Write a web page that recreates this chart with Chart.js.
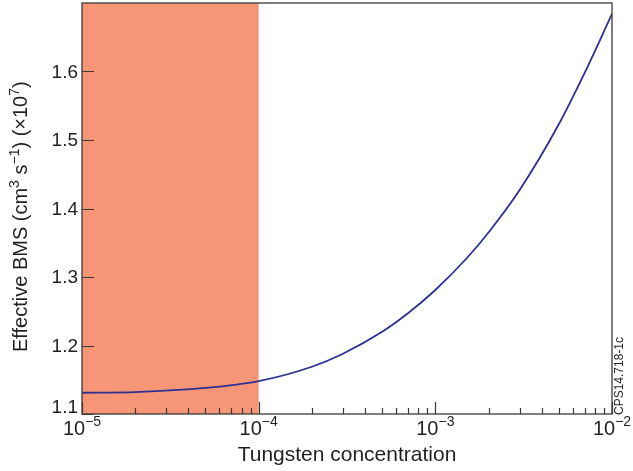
<!DOCTYPE html>
<html>
<head>
<meta charset="utf-8">
<script src="https://cdn.jsdelivr.net/npm/chart.js@4.4.1/dist/chart.umd.min.js"></script>
<style>
html,body{margin:0;padding:0;background:#fff;}
#wrap{width:633px;height:471px;position:relative;}
</style>
</head>
<body>
<div id="wrap"><canvas id="c" width="633" height="471"></canvas></div>
<script>
// ---- data ----
const concentration = [1e-5, 2e-5, 5e-5, 1e-4, 2e-4, 3e-4, 5e-4, 7e-4, 1e-3, 1.5e-3, 2e-3, 3e-3, 5e-3, 7e-3, 1e-2];
const effectiveBMS  = [1.131, 1.132, 1.138, 1.148, 1.169, 1.188, 1.220, 1.247, 1.281, 1.327, 1.365, 1.427, 1.523, 1.598, 1.684];
const shadedRange   = [1e-5, 1e-4];
const yTicks        = [1.1, 1.2, 1.3, 1.4, 1.5, 1.6];
const xMajorTicks   = [1e-5, 1e-4, 1e-3, 1e-2];
const xTickExponents = ['−5', '−4', '−3', '−2'];
const xTitle = 'Tungsten concentration';
const figureId = 'CPS14.718-1c';

const FONT = '"Liberation Sans", Arial, Helvetica, sans-serif';
const INK = '#231f20';

const points = concentration.map((c, i) => ({x: c, y: effectiveBMS[i]}));

const decor = {
  id: 'decor',
  beforeDatasetsDraw(chart) {
    const {ctx, chartArea: a, scales: {x}} = chart;
    const x0 = x.getPixelForValue(shadedRange[0]);
    const x1 = x.getPixelForValue(shadedRange[1]);
    ctx.save();
    ctx.fillStyle = '#F79676';
    ctx.fillRect(x0, a.top, x1 - x0, a.bottom - a.top);
    ctx.restore();
  },
  afterDatasetsDraw(chart) {
    const {ctx, chartArea: a, scales: {x, y}} = chart;
    ctx.save();
    // ticks (inward)
    ctx.strokeStyle = '#3a3a3a';
    ctx.lineWidth = 1.2;
    ctx.beginPath();
    yTicks.forEach(v => {
      const py = Math.round(y.getPixelForValue(v)) + 0.5;
      ctx.moveTo(a.left, py); ctx.lineTo(a.left + 12, py);
    });
    for (let d = 0; d < xMajorTicks.length; d++) {
      const base = xMajorTicks[d];
      const px = Math.round(x.getPixelForValue(base)) + 0.5;
      ctx.moveTo(px, a.bottom); ctx.lineTo(px, a.bottom - 12);
      if (d < xMajorTicks.length - 1) {
        for (let m = 2; m <= 9; m++) {
          const pm = Math.round(x.getPixelForValue(base * m)) + 0.5;
          ctx.moveTo(pm, a.bottom); ctx.lineTo(pm, a.bottom - 6);
        }
      }
    }
    ctx.stroke();
    // frame
    ctx.strokeStyle = '#3a3a3a';
    ctx.lineWidth = 1.3;
    ctx.strokeRect(a.left, a.top, a.right - a.left, a.bottom - a.top);

    ctx.fillStyle = INK;
    // y tick labels
    ctx.font = '19px ' + FONT;
    ctx.textAlign = 'right';
    yTicks.forEach((v, i) => {
      const py = y.getPixelForValue(v);
      if (i === 0) { ctx.textBaseline = 'alphabetic'; ctx.fillText(v.toFixed(1), 78, py - 1); }
      else { ctx.textBaseline = 'middle'; ctx.fillText(v.toFixed(1), 78, py + 1); }
    });
    // x tick labels with superscripts
    ctx.textBaseline = 'alphabetic';
    ctx.textAlign = 'left';
    xMajorTicks.forEach((v, i) => {
      const px = x.getPixelForValue(v);
      ctx.font = '20px ' + FONT;
      const wb = ctx.measureText('10').width;
      ctx.font = '14px ' + FONT;
      const we = ctx.measureText(xTickExponents[i]).width;
      let start = px - (wb + we) / 2;
      if (start + wb + we > 633) start = 633 - wb - we;
      ctx.font = '20px ' + FONT;
      ctx.fillText('10', start, 435);
      ctx.font = '14px ' + FONT;
      ctx.fillText(xTickExponents[i], start + wb, 426);
    });
    // x title
    ctx.font = '21px ' + FONT;
    ctx.textAlign = 'center';
    ctx.fillText(xTitle, (a.left + a.right) / 2, 461);

    // y title (rotated, with superscripts)
    const parts = [
      ['Effective BMS (cm', false], ['3', true], [' s', false], ['−1', true],
      [') (×10', false], ['7', true], [')', false]
    ];
    ctx.translate(27, 352);
    ctx.rotate(-Math.PI / 2);
    ctx.textAlign = 'left';
    let cx = 0;
    parts.forEach(([t, sup]) => {
      ctx.font = (sup ? '14px ' : '20px ') + FONT;
      ctx.fillText(t, cx, sup ? -8 : 0);
      cx += ctx.measureText(t).width;
    });
    ctx.restore();

    // figure id
    ctx.save();
    ctx.fillStyle = INK;
    ctx.font = '12px ' + FONT;
    ctx.translate(623, 415);
    ctx.rotate(-Math.PI / 2);
    ctx.textAlign = 'left';
    ctx.fillText(figureId, 0, 0);
    ctx.restore();
  }
};

new Chart(document.getElementById('c'), {
  type: 'line',
  data: {
    datasets: [{
      data: points,
      borderColor: '#2E3192',
      borderWidth: 1.8,
      pointRadius: 0,
      fill: false,
      cubicInterpolationMode: 'monotone'
    }]
  },
  options: {
    responsive: false,
    animation: false,
    layout: {padding: {left: 82, right: 21, top: 3, bottom: 57}},
    plugins: {legend: {display: false}, tooltip: {enabled: false}},
    scales: {
      x: {type: 'logarithmic', min: 1e-5, max: 1e-2, display: false},
      y: {type: 'linear', min: 1.1, max: 1.7, display: false}
    }
  },
  plugins: [decor]
});
</script>
</body>
</html>
